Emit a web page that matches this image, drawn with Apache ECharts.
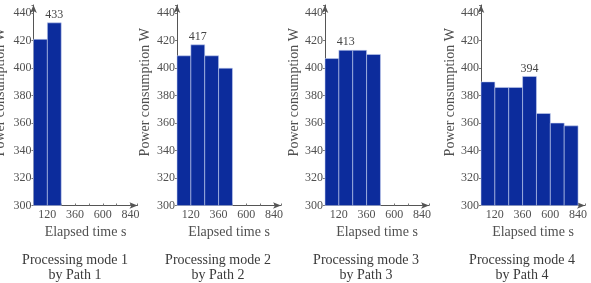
<!DOCTYPE html>
<html><head><meta charset="utf-8">
<script src="https://cdn.jsdelivr.net/npm/echarts@6/dist/echarts.min.js"></script>
<style>html,body{margin:0;padding:0;background:#fff}#c{width:591px;height:283px}</style>
</head><body><div id="c"></div>
<script>
// Data: power consumption (W) per 120 s interval for each processing mode
const stepSeconds = 120;
const mode1 = [421, 433];
const mode2 = [409, 417, 409, 400];
const mode3 = [407, 413, 413, 410];
const mode4 = [390, 386, 386, 394, 367, 360, 358];
const xTickLabels = [120, 360, 600, 840];
const titles = ['Processing mode 1\nby Path 1', 'Processing mode 2\nby Path 2', 'Processing mode 3\nby Path 3', 'Processing mode 4\nby Path 4'];
const yName = 'Power consumption W';
const xName = 'Elapsed time s';

const allModes = [mode1, mode2, mode3, mode4];
const FONT = "'Liberation Serif', 'Times New Roman', serif";
const TXT = '#505050';
const BAR = '#0c2c9c';
const gridLefts = [33.5, 177, 325, 481];
const yNameGaps = [26, 25, 23, 24];
const titleCenters = [75, 218, 366, 522];

const grids = [], xAxes = [], yAxes = [], series = [], titleArr = [];
allModes.forEach((vals, i) => {
  grids.push({ left: gridLefts[i], width: 104, top: 5, height: 200.5, containLabel: false, outerBoundsMode: 'none' });
  xAxes.push({
    type: 'value', gridIndex: i, min: 0, max: 900, interval: stepSeconds,
    name: xName, nameLocation: 'middle', nameGap: 17,
    nameTextStyle: { fontFamily: FONT, fontSize: 14, color: TXT },
    axisLine: { show: true, lineStyle: { color: '#555', width: 1 }, symbol: ['none', 'arrow'], symbolSize: [5, 8] },
    axisTick: { show: true, inside: true, length: 2, lineStyle: { color: '#777' } },
    splitLine: { show: false },
    axisLabel: {
      fontFamily: FONT, fontSize: 12, color: TXT, margin: 3,
      formatter: v => xTickLabels.indexOf(v) >= 0 ? String(v) : ''
    }
  });
  yAxes.push({
    type: 'value', gridIndex: i, min: 300, max: 446, interval: 20,
    name: yName, nameLocation: 'middle', nameGap: yNameGaps[i], nameRotate: 90,
    nameTextStyle: { fontFamily: FONT, fontSize: 14, color: TXT, padding: [0, 0, 0, 26] },
    axisLine: { show: true, lineStyle: { color: '#555', width: 1 }, symbol: ['none', 'arrow'], symbolSize: [5, 8] },
    axisTick: { show: true, length: 2, lineStyle: { color: '#777' } },
    splitLine: { show: false },
    axisLabel: {
      fontFamily: FONT, fontSize: 12, color: TXT, margin: 2,
      formatter: v => (v % 20 === 0 ? String(v) : '')
    }
  });
  const maxVal = Math.max.apply(null, vals);
  const data = vals.map((v, k) => [k * stepSeconds, (k + 1) * stepSeconds, v]);
  series.push({
    type: 'custom', xAxisIndex: i, yAxisIndex: i, data: data,
    encode: { x: [0, 1], y: 2 },
    renderItem: (params, api) => {
      const x0 = api.value(0), x1 = api.value(1), v = api.value(2);
      const p0 = api.coord([x0, 300]);
      const p1 = api.coord([x1, v]);
      const children = [{
        type: 'rect',
        shape: { x: p0[0], y: p1[1], width: p1[0] - p0[0], height: p0[1] - p1[1] },
        style: { fill: BAR, stroke: 'rgba(200,210,240,0.8)', lineWidth: 0.7 }
      }];
      if (vals.indexOf(maxVal) === params.dataIndex) {
        children.push({
          type: 'text',
          style: { text: String(v), x: (p0[0] + p1[0]) / 2, y: p1[1] - 2, align: 'center', verticalAlign: 'bottom',
            font: '12px ' + FONT, fill: '#444' }
        });
      }
      return { type: 'group', children: children };
    }
  });
  titleArr.push({
    text: titles[i], left: titleCenters[i], top: 253, textAlign: 'center', padding: 0,
    textStyle: { fontFamily: FONT, fontSize: 14, fontWeight: 'normal', color: '#3a3a3a', lineHeight: 15 }
  });
});

const chart = echarts.init(document.getElementById('c'), null, { renderer: 'canvas' });
chart.setOption({
  animation: false,
  backgroundColor: '#fff',
  title: titleArr,
  grid: grids, xAxis: xAxes, yAxis: yAxes, series: series
});
</script></body></html>
